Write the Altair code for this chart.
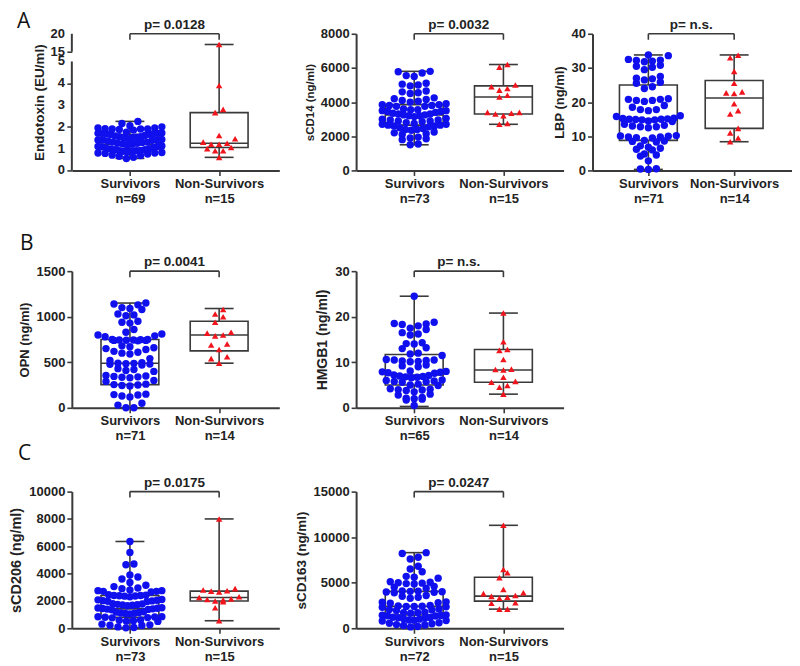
import altair as alt
import numpy as np
import pandas as pd

# ---------------------------------------------------------------- data
groups = ["Survivors", "Non-Survivors"]

endotoxin_surv = [2.25, 2.15, 2.05, 2.0, 1.95, 1.9, 1.9, 1.88, 1.92, 1.85, 1.9, 1.95,
                  1.7, 1.72, 1.68, 1.65, 1.7, 1.75, 1.7, 1.66, 1.68, 1.6,
                  1.55, 1.5, 1.52, 1.58, 1.5, 1.55, 1.42, 1.4, 1.38, 1.45, 1.4, 1.35, 1.4,
                  1.3, 1.25, 1.22, 1.28, 1.2, 1.25, 1.3, 1.12, 1.1, 1.08, 1.15, 1.1, 1.05,
                  1.0, 0.98, 0.95, 1.02, 0.95, 0.88, 0.9, 0.85, 0.92, 0.87, 0.9, 0.82,
                  0.78, 0.8, 0.75, 0.8, 0.68, 0.7, 0.65, 0.6, 0.55]
endotoxin_non = [17.0, 3.9, 2.8, 2.65, 1.6, 1.45, 1.3, 1.25, 1.2, 1.2, 1.05, 1.0, 0.9, 0.9, 0.6]
endotoxin_box_surv = [0.55, 1.0, 1.2, 1.65, 2.25]      # min, q1, median, q3, max
endotoxin_box_non = [0.6, 1.05, 1.25, 2.65, 17.0]
endotoxin_ticks = [0, 1, 2, 3, 4, 5, 15, 20]

scd14_surv = [5800, 5780, 5700, 5550, 5500, 5100, 5050, 5000, 4950, 4650, 4600, 4550, 4500,
              4250, 4200, 4150, 4100, 4050, 4000, 3900, 3850, 3850, 3800, 3800, 3750, 3750,
              3600, 3550, 3550, 3500, 3500, 3450, 3450, 3400, 3350, 3300, 3300, 3250, 3250,
              3200, 3200, 3150, 3050, 3000, 2950, 2950, 2900, 2900, 2850, 2800, 2750, 2700,
              2700, 2650, 2650, 2600, 2600, 2550, 2500, 2450, 2400, 2400, 2350, 2250, 2200,
              2150, 2100, 1950, 1900, 1850, 1800, 1550, 1500]
scd14_non = [6200, 6050, 5000, 4900, 4800, 4700, 4400, 4300, 3400, 3400, 3350, 3300, 3200, 2750, 2700]
scd14_box_surv = [1500, 2650, 3250, 3850, 5800]
scd14_box_non = [2700, 3300, 4300, 4950, 6200]

lbp_surv = [33.8, 33.6, 32.5, 32.3, 32.0, 31.8, 32.2, 30.8, 30.5, 30.2, 29.5,
            27.5, 27.0, 26.5, 26.8, 25.8, 25.5, 24.5, 24.0,
            21.0, 20.8, 20.5, 20.5, 20.2, 20.8, 19.0, 18.5, 17.8, 17.5, 17.8, 16.0, 15.8,
            15.3, 15.2, 15.0, 15.0, 14.8, 14.8, 14.5, 14.3, 15.1, 14.9,
            13.5, 13.2, 13.0, 12.8, 12.5, 12.8, 10.2, 10.0, 9.8, 9.8, 9.5, 9.6, 10.1,
            8.8, 8.5, 8.3, 8.6, 7.2, 6.8, 6.5, 6.2, 6.0, 4.8, 4.5, 4.2, 2.8, 0.5, 0.3, 0.4]
lbp_non = [33.7, 33.0, 29.0, 25.5, 23.0, 22.7, 22.5, 19.5, 17.5, 16.5, 12.3, 11.0, 9.5, 8.4]
lbp_box_surv = [0.3, 8.8, 15.0, 25.0, 33.8]
lbp_box_non = [8.4, 12.3, 21.2, 26.3, 33.8]

opn_surv = [1150, 1140, 1130, 1100, 1090, 1080, 1030, 1020, 1010, 940, 950, 930, 860, 830,
            800, 790, 810, 780, 750, 745, 740, 750, 745, 740, 735, 748, 742,
            680, 670, 660, 650, 640, 620, 610, 600, 590, 540, 520,
            490, 485, 480, 478, 470, 495, 488, 430, 420, 410, 400,
            350, 345, 340, 335, 330, 355, 300, 290, 260, 255, 250, 245, 240,
            150, 145, 140, 130, 120, 50, 30, 0, 0]
opn_non = [1080, 1030, 1000, 940, 830, 820, 800, 790, 700, 690, 640, 560, 540, 490]
opn_box_surv = [0, 255, 490, 750, 1150]
opn_box_non = [490, 625, 800, 950, 1090]

hmgb1_surv = [24.5, 18.8, 18.5, 18.3, 18.0, 18.4, 17.5, 17.2, 16.5, 16.2, 16.0,
              14.3, 14.1, 14.0, 13.2, 13.0, 12.0, 11.8, 11.5,
              10.5, 10.4, 10.3, 10.5, 10.2, 10.6, 10.1, 9.4, 9.2, 9.0,
              8.0, 7.9, 7.8, 7.7, 8.1, 7.6, 7.2, 7.0, 6.9, 6.8, 7.1, 6.7, 6.6,
              6.0, 5.9, 5.8, 5.7, 5.6, 6.1, 5.2, 5.0, 4.9, 4.2, 4.0, 3.9, 4.1, 3.8, 3.5,
              3.0, 2.8, 2.3, 2.1, 1.9, 1.7, 2.0, 0.5]
hmgb1_non = [20.8, 14.5, 12.8, 12.6, 10.6, 8.5, 8.4, 8.3, 6.7, 5.8, 5.6, 4.9, 4.5, 3.0]
hmgb1_box_surv = [0.3, 5.0, 7.2, 11.7, 24.5]
hmgb1_box_non = [3.0, 5.6, 8.3, 12.8, 20.8]

scd206_surv = [6350, 5550, 4700, 4650, 3900, 3750, 3600, 3350, 3150, 3050, 2950, 2900,
               2750, 2700, 2650, 2800, 2750, 2700, 2450, 2400, 2350, 2400, 2380, 2420, 2360, 2300,
               2100, 2050, 2000, 1980, 1950, 2020, 2080, 1800, 1750, 1700, 1720, 1680, 1650, 1780,
               1500, 1450, 1400, 1420, 1380, 1350, 1480, 1460, 1200, 1150, 1100, 1120, 1080, 1050, 1180,
               850, 820, 800, 780, 760, 840, 600, 550, 520, 500, 580, 300, 250, 220, 200, 100, 50, 30]
scd206_non = [8000, 2900, 2800, 2750, 2720, 2650, 2300, 2250, 2150, 2100, 2080, 2000, 1950, 1500, 550]
scd206_box_surv = [30, 800, 1420, 2400, 6350]
scd206_box_non = [550, 1990, 2250, 2720, 8000]

scd163_surv = [8300, 8200, 7800, 7600, 6800, 6500, 6200, 5700, 5600, 5500,
               5100, 5000, 4950, 4900, 4850, 5050, 4600, 4500, 4400,
               4100, 4050, 4000, 3950, 3900, 4080, 3980, 3600, 3500, 3400, 3300,
               2900, 2800, 2750, 2850, 2500, 2450, 2400, 2350, 2300, 2420, 2380,
               2100, 2000, 1950, 2050, 1750, 1700, 1650, 1720, 1450, 1400, 1350, 1420, 1380,
               1200, 1150, 1100, 1050, 1180, 1000, 900, 850, 800, 880, 600, 550, 500,
               400, 350, 300, 200, 150]
scd163_non = [11300, 6450, 6100, 5550, 4250, 3900, 3800, 3600, 3500, 3400, 3300, 2800, 2750, 2100, 2100]
scd163_box_surv = [150, 1450, 2400, 4050, 8300]
scd163_box_non = [2100, 2980, 3530, 5600, 11300]

p_values = ["p= 0.0128", "p= 0.0032", "p= n.s.", "p= 0.0041", "p= n.s.", "p= 0.0175", "p= 0.0247"]

# ---------------------------------------------------------------- style
FONT = "Liberation Sans"
LINE = "#3a3a3a"
BLUE = "#1010ee"
RED = "#f0141c"
PH = 137
POS = [0.28, 0.71]
BOX_HALF_PX = 29


def endo_disp(v):
    # broken axis: 0-5 linear, then 15-20 compressed above
    return v if v <= 5 else 5.45 + (v - 15) * 0.164


def swarm(vals, ppu, row_px=6.5, step_px=8.0, max_px=64.0):
    """Row-wise dot-plot layout: points in a row placed centre-out."""
    vals = np.asarray(vals, float)
    order = np.argsort(vals, kind="stable")
    rows, cur, start = [], [], None
    for i in order:
        v = vals[i]
        if cur and (v - start) * ppu >= row_px:
            rows.append(cur)
            cur = []
        if not cur:
            start = v
        cur.append(i)
    if cur:
        rows.append(cur)
    off = np.zeros(len(vals))
    for r in rows:
        n = len(r)
        if n == 1:
            continue
        step = min(step_px, max_px / (n - 1))
        slots = sorted(((k - (n - 1) / 2) * step for k in range(n)), key=lambda s: (abs(s), s))
        for i, s in zip(r, slots):
            off[i] = s
    return off


def panel(surv, non, box_s, box_n, top, ticks, title, tfs, ns, nn, p, width=208,
          tf=None, broken=False, letter=None):
    tf = tf or (lambda v: v)
    ppu = PH / top
    sv = np.array([tf(v) for v in surv])
    nv = np.array([tf(v) for v in non])
    pts_s = pd.DataFrame({"x": POS[0] + swarm(sv, ppu) / width, "y": sv})
    pts_n = pd.DataFrame({"x": POS[1] + swarm(nv, ppu) / width, "y": nv})
    half = BOX_HALF_PX / width
    rows = []
    for pos, b in zip(POS, [box_s, box_n]):
        b = [tf(v) for v in b]
        rows.append(dict(pos=pos, lo=pos - half, hi=pos + half, clo=pos - half / 2,
                         chi=pos + half / 2, mn=b[0], q1=b[1], med=b[2], q3=b[3], mx=b[4]))
    box = pd.DataFrame(rows)
    brk = pd.DataFrame([dict(x1=POS[0], x2=POS[1], xm=(POS[0] + POS[1]) / 2, y=top,
                             yd=top - 6 / ppu, label=p)])

    xsc = alt.Scale(domain=[0, 1], nice=False, zero=False)
    ysc = alt.Scale(domain=[0, top], nice=False, zero=False)
    xaxis = alt.Axis(values=POS, title=None, grid=False, labelFlush=False,
                     labelExpr=f"datum.value < 0.5 ? ['{groups[0]}', 'n={ns}'] : ['{groups[1]}', 'n={nn}']",
                     labelFontSize=13, labelLineHeight=15, labelPadding=2, tickSize=5)
    ykw = dict(values=[tf(t) for t in ticks], title=title, titleFontSize=tfs, grid=False,
               format="d", labelFontSize=13, tickSize=5, labelPadding=2, titlePadding=5,
               labelOverlap=False, labelFlush=False)
    if broken:
        ykw["labels"] = False
        ykw["domain"] = False
        ykw["titlePadding"] = 20
    yaxis = alt.Axis(**ykw)

    def X(f):
        return alt.X(f, type="quantitative", scale=xsc, axis=xaxis)

    def Y(f):
        return alt.Y(f, type="quantitative", scale=ysc, axis=yaxis)

    rule = dict(color=LINE, strokeWidth=1.6)
    base_b = alt.Chart(box)
    layers = [
        base_b.mark_rule(**rule).encode(x=X("pos"), y=Y("mn"), y2="q1"),
        base_b.mark_rule(**rule).encode(x=X("pos"), y=Y("q3"), y2="mx"),
        base_b.mark_rule(**rule).encode(x=X("clo"), x2="chi", y=Y("mn")),
        base_b.mark_rule(**rule).encode(x=X("clo"), x2="chi", y=Y("mx")),
        base_b.mark_rect(fillOpacity=0, stroke=LINE, strokeWidth=1.6).encode(
            x=X("lo"), x2="hi", y=Y("q1"), y2="q3"),
        base_b.mark_rule(**rule).encode(x=X("lo"), x2="hi", y=Y("med")),
        alt.Chart(pts_s).mark_point(shape="circle", filled=True, size=55, color=BLUE,
                                    opacity=1).encode(x=X("x"), y=Y("y")),
        alt.Chart(pts_n).mark_point(shape="triangle-up", filled=True, size=42, color=RED,
                                    opacity=1).encode(x=X("x"), y=Y("y")),
    ]
    base_k = alt.Chart(brk)
    layers += [
        base_k.mark_rule(**rule).encode(x=X("x1"), x2="x2", y=Y("y")),
        base_k.mark_rule(**rule).encode(x=X("x1"), y=Y("yd"), y2="y"),
        base_k.mark_rule(**rule).encode(x=X("x2"), y=Y("yd"), y2="y"),
        base_k.mark_text(font=FONT, fontWeight="bold", fontSize=13.5, color="#222222",
                         baseline="alphabetic", dy=-5).encode(x=X("xm"), y=Y("y"), text="label:N"),
    ]
    if broken:
        # axis line drawn in two pieces, with tick labels of the broken scale
        seg = pd.DataFrame({"a": [0, tf(15)], "b": [5, tf(20)]})
        layers.append(alt.Chart(seg).mark_rule(color=LINE, strokeWidth=2).encode(
            x=alt.value(0), y=Y("a"), y2="b"))
        tk = pd.DataFrame({"v": [tf(t) for t in ticks], "lab": [str(t) for t in ticks]})
        layers.append(alt.Chart(tk).mark_text(font=FONT, fontWeight="bold", fontSize=13,
                                              color="#222222", align="right", baseline="middle",
                                              dx=-7).encode(x=alt.value(0), y=Y("v"), text="lab:N"))
    if letter:
        lt = pd.DataFrame({"t": [letter[0]]})
        layers.append(alt.Chart(lt).mark_text(font="Open Sans", fontSize=21, color="#111111",
                                              align="left", baseline="alphabetic").encode(
            x=alt.value(letter[1]), y=alt.value(letter[2]), text="t:N"))
    return alt.layer(*layers).properties(width=width, height=PH)


def spacer(w=1, h=1):
    return alt.Chart(pd.DataFrame({"v": [0]})).mark_point(opacity=0).encode(
        x=alt.value(0), y=alt.value(0)).properties(width=w, height=h)


a1 = panel(endotoxin_surv, endotoxin_non, endotoxin_box_surv, endotoxin_box_non,
           endo_disp(20), endotoxin_ticks, "Endotoxin (EU/ml)", 13.5, 69, 15, p_values[0],
           tf=endo_disp, broken=True, letter=("A", -55, -6))
a2 = panel(scd14_surv, scd14_non, scd14_box_surv, scd14_box_non, 8000,
           [0, 2000, 4000, 6000, 8000], "sCD14 (ng/ml)", 11.5, 73, 15, p_values[1])
a3 = panel(lbp_surv, lbp_non, lbp_box_surv, lbp_box_non, 40, [0, 10, 20, 30, 40],
           "LBP (ng/ml)", 13, 71, 14, p_values[2], width=200)
b1 = panel(opn_surv, opn_non, opn_box_surv, opn_box_non, 1500, [0, 500, 1000, 1500],
           "OPN (ng/ml)", 13, 71, 14, p_values[3], letter=("B", -52, -21))
b2 = panel(hmgb1_surv, hmgb1_non, hmgb1_box_surv, hmgb1_box_non, 30, [0, 10, 20, 30],
           "HMGB1 (ng/ml)", 14, 65, 14, p_values[4])
c1 = panel(scd206_surv, scd206_non, scd206_box_surv, scd206_box_non, 10000,
           [0, 2000, 4000, 6000, 8000, 10000], "sCD206 (ng/ml)", 14.5, 73, 15, p_values[5],
           letter=("C", -54, -32))
c2 = panel(scd163_surv, scd163_non, scd163_box_surv, scd163_box_non, 15000,
           [0, 5000, 10000, 15000], "sCD163 (ng/ml)", 13.5, 72, 15, p_values[6])

cells = [a1, spacer(19, 1), a2, a3,
         spacer(1, 41), spacer(), spacer(), spacer(),
         b1, spacer(), b2, spacer(),
         spacer(1, 24), spacer(), spacer(), spacer(),
         c1, spacer(), c2, spacer()]

chart = alt.concat(*cells, columns=4, spacing=alt.RowColnumber(row=30, column=29),
                   bounds="flush").properties(
    padding={"left": 0, "top": 2, "right": 0, "bottom": 0}
).configure_view(strokeWidth=0).configure_axis(
    labelFont=FONT, labelFontWeight="bold", labelColor="#222222",
    titleFont=FONT, titleFontWeight="bold", titleColor="#222222",
    domainColor=LINE, tickColor=LINE, domainWidth=2, tickWidth=1.6, grid=False,
    labelOverlap=False
)

chart.save("out.html", embed_options={"renderer": "svg", "actions": False})
